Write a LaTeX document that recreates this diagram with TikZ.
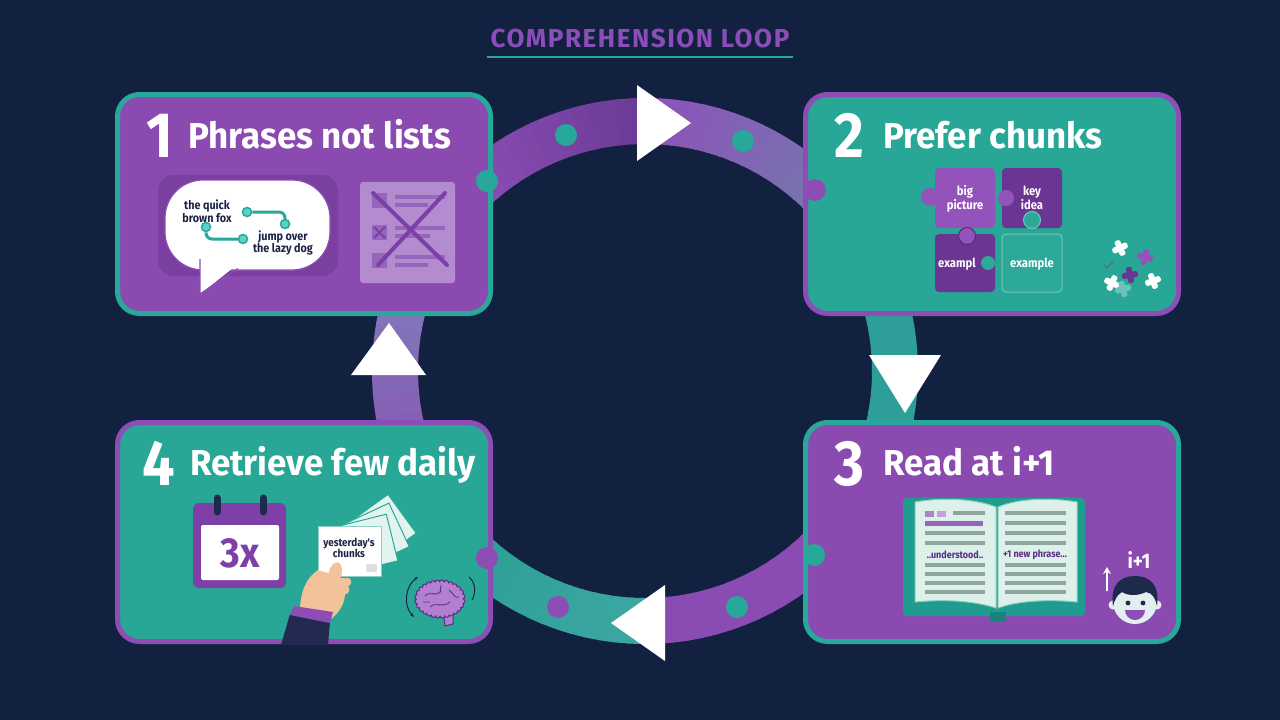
\documentclass[tikz,border=0pt]{standalone}
\usepackage{fontspec}
\setmainfont{Fira Sans}
\newfontfamily\hf{Fira Sans}[FakeStretch=0.9]
\newfontfamily\gf{Fira Sans}[FakeStretch=0.97]
\newfontfamily\tf{Fira Sans}[LetterSpace=6]
\usetikzlibrary{calc,arrows.meta,decorations.pathmorphing}
\definecolor{bg}{HTML}{12213F}
\definecolor{purpF}{HTML}{8A4AB0}
\definecolor{purpB}{HTML}{8E4DB5}
\definecolor{tealF}{HTML}{28A797}
\definecolor{tealB}{HTML}{27A89A}
\definecolor{purpM}{HTML}{7A3FA0}
\definecolor{purpL}{HTML}{B38BCF}
\definecolor{purpC}{HTML}{9566BB}
\definecolor{purpX}{HTML}{7B3FA7}
\definecolor{navyT}{HTML}{1C2344}
\definecolor{pzA}{HTML}{9452BB}
\definecolor{pzB}{HTML}{6B3593}
\definecolor{pzT}{HTML}{2CA999}
\definecolor{pzO}{HTML}{6CCABC}
\definecolor{ringPa}{HTML}{9050B8}
\definecolor{ringPb}{HTML}{6A3A96}
\definecolor{ringPc}{HTML}{8C52BA}
\definecolor{ringLa}{HTML}{7479AC}
\definecolor{ringT}{HTML}{2E9E99}
\definecolor{ringPd}{HTML}{8A4BB2}
\definecolor{ringTa}{HTML}{3DA7A2}
\definecolor{ringTb}{HTML}{2A9E96}
\definecolor{ringLb}{HTML}{8088BE}
\definecolor{page}{HTML}{DDF0EA}
\definecolor{pline}{HTML}{8EA59C}
\definecolor{cover}{HTML}{1F9C8E}
\definecolor{coverD}{HTML}{17837A}
\definecolor{faceC}{HTML}{E3EEF0}
\definecolor{hair}{HTML}{1E2A4C}
\definecolor{skin}{HTML}{F3C29A}
\definecolor{sleeve}{HTML}{232A52}
\definecolor{calP}{HTML}{7E40A6}
\definecolor{cardB}{HTML}{E3F4EF}
\definecolor{brain}{HTML}{B27FD1}
\definecolor{brainO}{HTML}{5B2C83}
\definecolor{titleP}{HTML}{8B4EB8}
\definecolor{dotT}{HTML}{5ED2C6}
\definecolor{bookT}{HTML}{5A2B8A}
\definecolor{pageO}{HTML}{8CCFC3}

\newcommand\ringarc[4]{%
  \foreach \k in {1,...,16}{%
    \pgfmathsetmacro\ringA{#1+(#2-#1)*(\k-1)/16}%
    \pgfmathsetmacro\ringB{#1+(#2-#1)*(\k)/16+0.6*sign(#2-#1)}%
    \pgfmathtruncatemacro\ringP{100*(\k-0.5)/16}%
    \draw[line width=46, draw=#4!\ringP!#3] (loopc) ++(\ringA:250) arc[start angle=\ringA, end angle=\ringB, radius=250];
  }}
\newcommand\minipz[4]{%
  \begin{scope}[shift={(#1,#2)}, rotate=#3]
    \fill[#4, rounded corners=1.5] (-8,-3) rectangle (8,3);
    \fill[#4, rounded corners=1.5] (-3,-8) rectangle (3,8);
  \end{scope}}

\tikzset{
  boxP/.style={fill=purpF, draw=tealB, line width=5, rounded corners=22, minimum width=373, minimum height=219, inner sep=0},
  boxT/.style={fill=tealF, draw=purpB, line width=5, rounded corners=22, minimum width=373, minimum height=219, inner sep=0},
  numtxt/.style={anchor=base west, text=white, font=\hf\bfseries\fontsize{64}{64}\selectfont, inner sep=0},
  headtxt/.style={anchor=base west, text=white, font=\gf\bfseries\fontsize{36}{36}\selectfont, inner sep=0},
  bigdot/.style={circle, inner sep=0, minimum size=22},
  sdot/.style={circle, inner sep=0, minimum size=9, fill=dotT, draw=tealB, line width=1.5},
  smalltxt/.style={align=center, font=\hf\bfseries\fontsize{12}{11}\selectfont, text=navyT, inner sep=0},
  pztxt/.style={align=center, font=\hf\bfseries\fontsize{12.5}{11.5}\selectfont, text=white, inner sep=0},
  booktxt/.style={font=\hf\bfseries\fontsize{10}{10}\selectfont, text=bookT, inner sep=0},
  arrowtri/.style={fill=white},
}

\begin{document}
\begin{tikzpicture}[x=1pt,y=-1pt]
\fill[bg] (0,0) rectangle (1280,720);
\useasboundingbox (0,0) rectangle (1280,720);

% title
\node[anchor=base, text=titleP, font=\tf\bfseries\fontsize{26}{26}\selectfont, inner sep=0] (title) at (640,47) {COMPREHENSION LOOP};
\coordinate (ulA) at (487,57);
\coordinate (ulB) at (793,57);
\draw[tealB, line width=1.5] (ulA) -- (ulB);

% loop ring
\coordinate (loopc) at (645,371);
\ringarc{-140}{-90}{ringPa}{ringPb}
\ringarc{-90}{-40}{ringPc}{ringLa}
\ringarc{-40}{40}{ringT}{ringT}
\ringarc{40}{90}{ringPd}{ringPd}
\ringarc{90}{140}{ringTa}{ringTb}
\ringarc{140}{220}{ringPd}{ringLb}

% boxes
\node[boxP] (b1) at (304,204) {};
\node[boxT] (b2) at (992,204) {};
\node[boxP] (b3) at (992,532) {};
\node[boxT] (b4) at (304,532) {};

% dots on ring
\node[bigdot, fill=tealB] (e1) at (487,181) {};
\node[bigdot, fill=purpB] (e2) at (815,190) {};
\node[bigdot, fill=purpB] (e4) at (487,558) {};
\node[bigdot, fill=tealB] (e3) at (814,555) {};
\node[bigdot, fill=tealB] (r1) at (566,135) {};
\node[bigdot, fill=tealB] (r2) at (743,141) {};
\node[bigdot, fill=purpB] (r3) at (558,607) {};
\node[bigdot, fill=tealB] (r4) at (737,607) {};

% arrowheads
\fill[arrowtri] (637,85) -- (637,161) -- (691,123) -- cycle;
\fill[arrowtri] (869,355) -- (941,355) -- (905,413) -- cycle;
\fill[arrowtri] (665,585) -- (665,661) -- (611,623) -- cycle;
\fill[arrowtri] (351,375) -- (426,375) -- (389,323) -- cycle;

% headings
\node[numtxt] (n1) at (146,157) {1};
\node[headtxt] (h1) at (188,148) {Phrases not lists};
\node[numtxt] (n2) at (834,157) {2};
\node[headtxt] (h2) at (883,148) {Prefer chunks};
\node[numtxt] (n3) at (834,485) {3};
\node[headtxt] (h3) at (883,475) {Read at i+1};
\node[numtxt] (n4) at (142,485) {4};
\node[headtxt] (h4) at (190,475) {Retrieve few daily};

% ---------- box 1 content
\fill[purpM, rounded corners=16] (158,175) rectangle (338,276);
\filldraw[fill=white, draw=purpB, line width=1.2, rounded corners=38] (165,180) rectangle (330,270);
\fill[white] (200,250) -- (200,294) -- (238,264) -- (238,250) -- cycle;
\draw[purpB, line width=1.2, line join=round] (200,259) -- (200,294) -- (238,268.5);
\node[smalltxt] (t1) at (207,211) {the quick\\brown fox};
\node[smalltxt] (t2) at (283,243) {jump over\\the lazy dog};
\node[sdot] (d1) at (247,212) {};
\node[sdot] (d2) at (285,224) {};
\node[sdot] (d3) at (206,227) {};
\node[sdot] (d4) at (243,239) {};
\draw[tealB, line width=3, rounded corners=6] (d1.east) -| (d2.north);
\draw[tealB, line width=3, rounded corners=6] (d3.south) |- (d4.west);
% checklist
\fill[purpL, rounded corners=3] (360,182) rectangle (455,283);
\fill[purpC] (372,193) rectangle (387,208);
\fill[purpC] (372,225) rectangle (387,240);
\fill[purpC] (372,253) rectangle (387,268);
\draw[purpM, line width=2] (374,227) -- (385,238) (385,227) -- (374,238);
\draw[purpC, line width=4] (395,197) -- (445,197) (395,205) -- (428,205)
  (395,228) -- (445,228) (395,236) -- (430,236)
  (395,257) -- (445,257) (395,265) -- (428,265);
\draw[purpX, line width=4, line cap=round] (373,193) -- (447,265) (445,193) -- (378,265);

% ---------- box 2 content
\fill[pzA, rounded corners=4] (935,168) rectangle (995,228);
\fill[pzB, rounded corners=4] (1002,168) rectangle (1062,228);
\fill[pzB, rounded corners=4] (935,234) rectangle (995,292);
\filldraw[fill=pzT, draw=pzO, line width=1, rounded corners=4] (1002,234) rectangle (1062,292);
\fill[pzA] (930,197) circle (9);
\fill[pzA] (1006,198) circle (8);
\filldraw[fill=pzT, draw=pzO, line width=1] (1032,220) circle (8.5);
\filldraw[fill=pzA, draw=pzB!80!black, line width=1] (967,236) circle (8.5);
\node[pztxt] (p1) at (965,199) {big\\picture};
\node[pztxt] (p2) at (1032,198) {key\\idea};
\node[pztxt, anchor=west] (p3) at (938,264) {exampl};
\fill[pzT] (988,263) circle (7);
\node[pztxt] (p4) at (1032,264) {example};
\minipz{1120}{248}{25}{white}
\minipz{1145}{257}{-15}{pzA}
\minipz{1130}{275}{10}{pzB}
\minipz{1153}{281}{20}{white}
\minipz{1112}{283}{-25}{white}
\minipz{1123}{289}{15}{pzT!70!white}
\draw[navyT!70, line width=1] (1104,265) -- (1107,268) -- (1113,262);

% ---------- box 3 content
\fill[cover, rounded corners=4] (903,498) rectangle (1085,616);
\fill[coverD] (990,612) rectangle (1006,621);
\filldraw[fill=page, draw=pageO, line width=1] (915,502) .. controls (945,497) and (975,499) .. (996,507) -- (996,608) .. controls (975,601) and (945,599) .. (915,602) -- cycle;
\filldraw[fill=page, draw=pageO, line width=1] (1077,502) .. controls (1047,497) and (1017,499) .. (998,507) -- (998,608) .. controls (1017,601) and (1047,599) .. (1077,602) -- cycle;
\fill[purpC!80] (925,510.5) rectangle (934,516.5);
\fill[purpL!80] (937,510.5) rectangle (946,516.5);
\draw[pline, line width=4.5] (953,513) -- (985,513);
\draw[purpC, line width=5] (925,523) -- (983,523);
\foreach \yy in {533,543,565,574,583,592} {
  \draw[pline, line width=4.5] (925,\yy) -- (985,\yy);
}
\foreach \yy in {513,523,533,543,565,574,583,592} {
  \draw[pline, line width=4.5] (1005,\yy) -- (1066,\yy);
}
\node[booktxt] (k1) at (955,555) {..understood..};
\node[booktxt] (k2) at (1035,555) {+1 new phrase...};
% face
\fill[faceC] (1113,605) circle (4.5);
\fill[faceC] (1157,605) circle (4.5);
\fill[faceC] (1135,602) ellipse (22 and 22);
\fill[hair] (1113,606) .. controls (1110,585) and (1120,576) .. (1135,576) .. controls (1150,576) and (1160,585) .. (1157,606) .. controls (1155,597) and (1152,593) .. (1146,592) .. controls (1138,596) and (1128,596) .. (1122,592) .. controls (1117,595) and (1115,599) .. (1113,606) -- cycle;
\fill[hair] (1128,603) circle (2.4);
\fill[hair] (1143,603) circle (2.4);
\fill[purpB] (1125,610) -- (1145,610) arc[start angle=0, end angle=180, radius=10] -- cycle;
\node[font=\hf\bfseries\fontsize{21}{21}\selectfont, text=white, inner sep=0] (ip) at (1139,560) {i+1};
\coordinate (upA) at (1107,591);
\coordinate (upB) at (1107,567);
\draw[white, line width=2, -{Stealth[length=7pt,width=8pt]}] (upA) -- (upB);

% ---------- box 4 content
\fill[calP, rounded corners=6] (193,503) rectangle (286,588);
\fill[white, rounded corners=2] (201,525) rectangle (279,580);
\draw[hair, line width=7, line cap=round] (217,498) -- (217,512) (263,498) -- (263,512);
\node[font=\hf\bfseries\fontsize{42}{42}\selectfont, text=calP, inner sep=0] (cal) at (240,553) {3x};
% cards
\foreach \ang/\cx/\cy in {36/377/532, 25/371/538, 14/362/545} {
  \begin{scope}[shift={(\cx,\cy)}, rotate=\ang]
    \filldraw[fill=cardB, draw=tealB, line width=1] (-31,-24) rectangle (31,24);
  \end{scope}
}
\fill[skin, rounded corners=3] (338,578) rectangle (351,586);
\fill[skin, rounded corners=3] (337,585) rectangle (349,594);
\filldraw[fill=white, draw=pageO, line width=1] (318,526) rectangle (381,576);
\fill[gray!25, rounded corners=2] (366,564) rectangle (377,572);
\node[font=\hf\bfseries\fontsize{11}{10}\selectfont, text=navyT, align=center, inner sep=0] (cards) at (349,548) {yesterday's\\chunks};
% hand
\fill[skin] (300,612) .. controls (300,592) and (306,578) .. (318,570) -- (331,574) -- (345,590) .. controls (346,602) and (340,612) .. (330,620) -- cycle;
\fill[skin, rotate around={75:(335,574)}] (335,574) ellipse (12 and 6.5);
\fill[sleeve] (281,645) -- (290,614) -- (330,622) -- (328,645) -- cycle;
\fill[purpB] (290,615) -- (294,606) -- (333,612) -- (330,623) -- cycle;
% brain
\filldraw[fill=brain, draw=brainO, line width=1] (443,610) -- (445,626) -- (453,624) -- (453,608) -- cycle;
\filldraw[fill=brain, draw=brainO, line width=1, decorate, decoration={bumps, segment length=9pt, amplitude=2pt}] (440,599) ellipse (23 and 17);
\draw[brainO, line width=0.8] (425,596) .. controls (430,590) and (435,598) .. (441,591)
  (430,607) .. controls (436,601) and (442,609) .. (450,602)
  (441,585) -- (440,593) (449,590) .. controls (454,594) and (455,599) .. (459,597)
  (423,602) -- (430,602);
\coordinate (baA) at (418,577);
\coordinate (baB) at (414,617);
\coordinate (bbA) at (469,577);
\coordinate (bbB) at (472,600);
\draw[navyT, line width=1, {Stealth[length=4pt]}-{Stealth[length=4pt]}] (baA) .. controls (405,586) and (403,606) .. (baB);
\draw[navyT, line width=1] (bbA) .. controls (476,583) and (476,593) .. (bbB);
\end{tikzpicture}
\end{document}
